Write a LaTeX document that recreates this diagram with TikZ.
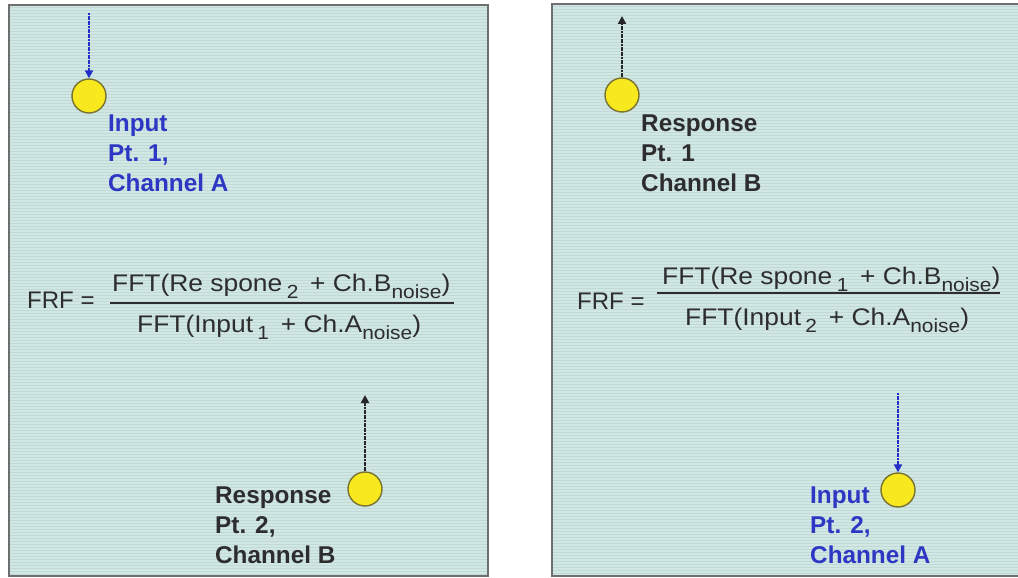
\documentclass[tikz,border=0pt]{standalone}
\usepackage{fontspec}
\setmainfont{Liberation Sans}
\usetikzlibrary{arrows.meta}

\definecolor{panelbg}{RGB}{208,231,227}
\definecolor{stripecol}{RGB}{194,218,215}
\definecolor{bordercol}{RGB}{110,110,110}
\definecolor{inblue}{RGB}{35,45,200}
\definecolor{txtblue}{RGB}{45,55,195}
\definecolor{txtdark}{RGB}{45,45,45}
\definecolor{ptfill}{RGB}{248,232,30}
\definecolor{ptdraw}{RGB}{120,115,50}

\newcommand{\sbs}[1]{\raisebox{-7pt}{\fontsize{19}{19}\selectfont #1}}
\newcommand{\fstretch}[1]{\scalebox{1.1}[1]{#1}}

\begin{document}
\begin{tikzpicture}[x=1pt,y=-1pt,
  panel/.style={fill=panelbg},
  stripe/.style={draw=stripecol,line width=0.7pt},
  frame/.style={draw=bordercol,line width=1.5pt},
  pt/.style={circle,fill=ptfill,draw=ptdraw,line width=1.4pt,minimum size=34pt,inner sep=0pt},
  inarrow/.style={draw=inblue,line width=2.4pt,dash pattern=on 2pt off 0.6pt,-{Triangle[length=8pt,width=8pt]}},
  outarrow/.style={draw=black!85,line width=2.4pt,dash pattern=on 2pt off 0.6pt,-{Triangle[length=8pt,width=8pt]}},
  lbl/.style={align=left,anchor=north west,inner sep=0pt,font=\fontsize{24.3}{30}\selectfont\bfseries},
  inlbl/.style={lbl,text=txtblue},
  outlbl/.style={lbl,text=txtdark},
  formula/.style={anchor=base west,inner sep=0pt,text=txtdark,font=\fontsize{24}{28}\selectfont},
  fbar/.style={draw=txtdark,line width=1.4pt}
]
\clip (0,0) rectangle (1018,578);
\fill[white] (0,0) rectangle (1018,578);

% left panel
\fill[panel] (9,5) rectangle (488,576);
\foreach \y in {7,10,...,575} \draw[stripe] (9,\y) -- (488,\y);
\draw[frame] (9,5) rectangle (488,576);

% right panel
\fill[panel] (552,4) rectangle (1030,576);
\foreach \y in {6,9,...,575} \draw[stripe] (552,\y) -- (1030,\y);
\draw[frame] (552,4) rectangle (1030,576);

% ---------- left panel content
\node[pt] (c1) at (89,96) {};
\coordinate (a1) at (89,13);
\draw[inarrow] (a1) -- (c1.north);
\node[inlbl] (l1) at (108,115) {Input\\Pt. 1,\\Channel A};

\node[formula] (frf1) at (27,308) {FRF =};
\node[formula] (num1) at (112,291) {\fstretch{FFT(Re spone\,\sbs{2}\, + Ch.B\sbs{noise})}};
\node[formula] (den1) at (137,332) {\fstretch{FFT(Input\,\sbs{1}\, + Ch.A\sbs{noise})}};
\draw[fbar] (110,303) -- (454,303);

\node[pt] (c2) at (365,489) {};
\coordinate (a2) at (365,395);
\draw[outarrow] (c2.north) -- (a2);
\node[outlbl] (l2) at (215,487) {Response\\Pt. 2,\\Channel B};

% ---------- right panel content
\node[pt] (c3) at (622,95) {};
\coordinate (a3) at (622,16);
\draw[outarrow] (c3.north) -- (a3);
\node[outlbl] (l3) at (641,115) {Response\\Pt. 1\\Channel B};

\node[formula] (frf2) at (577,309) {FRF =};
\node[formula] (num2) at (662,284) {\fstretch{FFT(Re spone\,\sbs{1}\, + Ch.B\sbs{noise})}};
\node[formula] (den2) at (685,325) {\fstretch{FFT(Input\,\sbs{2}\, + Ch.A\sbs{noise})}};
\draw[fbar] (657,293) -- (1000,293);

\node[pt] (c4) at (898,490) {};
\coordinate (a4) at (898,393);
\draw[inarrow] (a4) -- (c4.north);
\node[inlbl] (l4) at (810,487) {Input\\Pt. 2,\\Channel A};
\end{tikzpicture}
\end{document}
